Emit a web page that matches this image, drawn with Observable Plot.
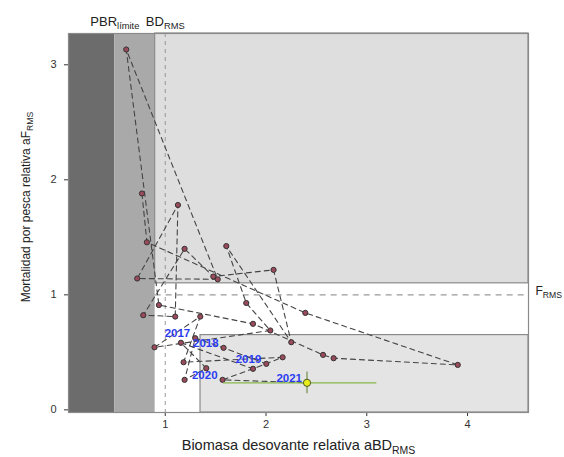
<!DOCTYPE html>
<html>
<head>
<meta charset="utf-8">
<script src="https://cdn.jsdelivr.net/npm/d3@7"></script>
<script src="https://cdn.jsdelivr.net/npm/@observablehq/plot@0.6"></script>
<style>
  html, body { margin: 0; padding: 0; background: #fff; }
  #chart { width: 564px; height: 457px; }
</style>
</head>
<body>
<div id="chart"></div>
<script>
// ---- data ----
const years = [1988,1989,1990,1991,1992,1993,1994,1995,1996,1997,1998,1999,2000,2001,2002,2003,2004,2005,2006,2007,2008,2009,2010,2011,2012,2013,2014,2015,2016,2017,2018,2019,2020,2021];
const bd = [0.769,0.818,2.390,3.903,2.671,2.566,1.871,0.937,0.613,1.521,0.722,1.126,1.099,0.782,1.192,1.477,2.075,2.251,1.606,1.804,2.043,0.894,1.348,1.182,2.165,1.871,1.156,1.407,1.192,1.298,1.579,2.003,1.569,2.407];
const fm = [1.881,1.457,0.843,0.391,0.449,0.478,0.748,0.911,3.133,1.135,1.142,1.781,0.811,0.823,1.400,1.159,1.217,0.588,1.424,0.929,0.690,0.544,0.811,0.414,0.457,0.357,0.583,0.362,0.261,0.623,0.539,0.400,0.261,0.235];
const labelYears = [2017,2018,2019,2020,2021];
const xTicks = [1,2,3,4];
const yTicks = [0,1,2,3];

// reference points / zones
const pbrLimite = 0.5;
const bdZone = 0.9;
const bdRms = 1.0;
const fRms = 1.0;
const fZone = 1.1;
const bdBox = 1.35;
const fBox = 0.65;
// 2021 uncertainty
const bd2021Range = [1.58, 3.10];
const f2021Range = [0.14, 0.33];

const xDom = [0.04, 4.605];
const yDom = [-0.023, 3.272];

const data = years.map((yr, i) => ({year: yr, bd: bd[i], f: fm[i]}));
const last = data[data.length - 1];
const past = data.slice(0, -1);
const labeled = data.filter(d => labelYears.includes(d.year));

const zones = [
  {x1: xDom[0], x2: pbrLimite, y1: yDom[0], y2: yDom[1], fill: "#6c6c6c"},
  {x1: pbrLimite, x2: bdZone, y1: yDom[0], y2: yDom[1], fill: "#a9a9a9"},
  {x1: bdZone, x2: xDom[1], y1: fZone, y2: yDom[1], fill: "#dedede"},
  {x1: bdBox, x2: xDom[1], y1: yDom[0], y2: fBox, fill: "#e4e4e4"}
];

const chart = Plot.plot({
  width: 564,
  height: 457,
  marginLeft: 68,
  marginRight: 36,
  marginTop: 33,
  marginBottom: 45,
  style: {fontFamily: "Liberation Sans, Arial, sans-serif", fontSize: "11px", color: "#333", background: "#fff"},
  x: {domain: xDom, ticks: xTicks, tickFormat: d3.format("d"), tickSize: 4, tickPadding: 4, label: null},
  y: {domain: yDom, ticks: yTicks, tickFormat: d3.format("d"), tickSize: 4, tickPadding: 8, label: null},
  marks: [
    Plot.rect(zones, {x1: "x1", x2: "x2", y1: "y1", y2: "y2", fill: "fill"}),
    Plot.rect([zones[2], zones[3]], {x1: "x1", x2: "x2", y1: "y1", y2: "y2", fill: "none", stroke: "#8a8a8a", strokeWidth: 1.2}),
    Plot.ruleX([bdRms], {stroke: "#9a9a9a", strokeDasharray: "4,4", strokeWidth: 1}),
    Plot.ruleY([fRms], {x1: bdZone, x2: xDom[1], stroke: "#9a9a9a", strokeDasharray: "6,5", strokeWidth: 1.2}),
    Plot.line(data, {x: "bd", y: "f", stroke: "#444", strokeWidth: 1.1, strokeDasharray: "5,4"}),
    Plot.dot(past, {x: "bd", y: "f", r: 2.6, fill: "#9a4a5a", stroke: "#333", strokeWidth: 1}),
    Plot.ruleY([last], {x1: () => bd2021Range[0], x2: () => bd2021Range[1], y: "f", stroke: "#86b84a", strokeWidth: 1.2}),
    Plot.ruleX([last], {x: "bd", y1: () => f2021Range[0], y2: () => f2021Range[1], stroke: "#6f8f4a", strokeWidth: 1.2}),
    Plot.dot([last], {x: "bd", y: "f", r: 3.6, fill: "#e8ec1a", stroke: "#4a5a20", strokeWidth: 1}),
    Plot.text(labeled, {x: "bd", y: "f", text: d => String(d.year), textAnchor: "end", dx: -5, dy: -5, fill: "#2b3cf0", fontWeight: "bold", fontSize: 11.5}),
    Plot.text([{x: pbrLimite, t: "PBR|límite"}, {x: bdRms, t: "BD|RMS"}], {x: "x", y: () => yDom[1], text: "t", dy: -12, fontSize: 13, fill: "#222"}),
    Plot.text([{t: "F|RMS"}], {x: () => xDom[1], y: () => fRms, text: "t", textAnchor: "start", dx: 7, dy: -4, fontSize: 12, fill: "#222"}),
    Plot.text(["Biomasa desovante relativa aBD|RMS"], {frameAnchor: "bottom", lineAnchor: "middle", textAnchor: "middle", dy: 33, fontSize: 14.5, fill: "#222"}),
    Plot.text(["Mortalidad por pesca relativa aF|RMS"], {frameAnchor: "left", textAnchor: "middle", lineAnchor: "middle", rotate: -90, dx: -42, dy: -16, fontSize: 12, fill: "#222"}),
    Plot.frame({stroke: "#8a8a8a", strokeWidth: 1.2})
  ]
});

document.getElementById("chart").appendChild(chart);

// subscripts: split "main|sub"
d3.select(chart).selectAll("text").each(function() {
  const t = this.textContent;
  if (t.includes("|")) {
    const [main, sub] = t.split("|");
    const sel = d3.select(this);
    sel.text(null);
    sel.append("tspan").text(main);
    sel.append("tspan").text(sub).attr("font-size", "0.72em").attr("dy", "0.35em");
  }
});
</script>
</body>
</html>
